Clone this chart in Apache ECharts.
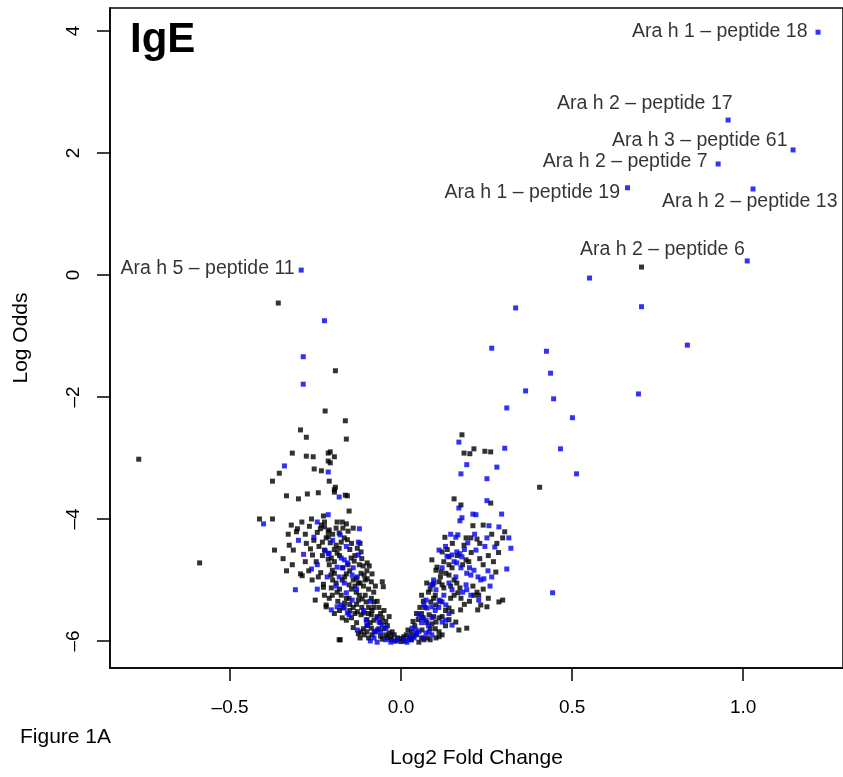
<!DOCTYPE html>
<html><head><meta charset="utf-8">
<script src="https://cdn.jsdelivr.net/npm/echarts@6/dist/echarts.min.js"></script>
<style>html,body{margin:0;padding:0;background:#fff}#c{width:843px;height:777px}</style>
</head><body><div id="c"></div>
<script>
// Labelled peptides (Log2 fold change, log odds)
const labelNames = ['Ara h 1 – peptide 18','Ara h 2 – peptide 17','Ara h 3 – peptide 61','Ara h 2 – peptide 7','Ara h 1 – peptide 19','Ara h 2 – peptide 13','Ara h 2 – peptide 6','Ara h 5 – peptide 11'];
const labelX = [1.219, 0.956, 1.146, 0.927, 0.662, 1.029, 1.012, -0.292];
const labelY = [3.98, 2.54, 2.05, 1.82, 1.43, 1.41, 0.23, 0.08];
// label placement (pixels), kept separate from data
const labelOffsets = [[-8,-1],[7,-16],[-3,-9],[-8,-2],[-5,5],[87,13],[0,-11],[-4,-1]];

const blackPoints = [
[-0.767,-3.02],[-0.589,-4.72],[-0.359,-0.46],[-0.192,-1.57],
[-0.222,-2.23],[-0.163,-2.39],[-0.294,-2.54],[-0.277,-2.66],[-0.160,-2.69],
[-0.318,-2.92],[-0.277,-2.97],[-0.257,-2.98],[-0.213,-2.92],[-0.207,-2.90],[-0.195,-2.98],[-0.213,-3.05],[-0.207,-3.08],
[-0.356,-3.25],[-0.254,-3.18],[-0.233,-3.21],[-0.376,-3.38],[-0.210,-3.38],[-0.192,-3.48],[-0.195,-3.52],[-0.195,-3.56],
[-0.335,-3.62],[-0.300,-3.67],[-0.274,-3.59],[-0.242,-3.57],[-0.163,-3.61],[-0.157,-3.62],
[-0.414,-4.00],[-0.376,-4.00],[-0.262,-4.00],[-0.227,-3.95],[-0.321,-4.10],[-0.303,-4.16],[-0.306,-4.21],[-0.233,-4.10],[-0.236,-4.16],[-0.224,-4.13],[-0.213,-4.21],[-0.213,-4.29],
[-0.370,-4.51],[-0.327,-4.43],[-0.315,-4.51],[-0.277,-4.40],[-0.265,-4.49],[-0.259,-4.59],[-0.213,-4.66],
[-0.318,-4.75],[-0.280,-4.70],[-0.248,-4.70],[-0.294,-4.90],[-0.289,-4.93],[-0.242,-4.95],[-0.227,-5.07],[-0.227,-5.12],[-0.224,-5.25],[-0.251,-5.33],[-0.219,-5.44],[-0.181,-5.98],
[-0.152,-3.87],[-0.224,-4.05],[-0.210,-4.18],[-0.219,-4.31],[-0.207,-4.39],[-0.187,-4.05],[-0.172,-4.05],[-0.160,-4.08],[-0.190,-4.15],[-0.181,-4.23],[-0.166,-4.31],[-0.157,-4.34],[-0.128,-4.48],[-0.117,-4.54],[-0.224,-4.51],[-0.204,-4.64],[-0.190,-4.43],[-0.181,-4.48],[-0.187,-4.56],[-0.195,-4.70],
[-0.146,-4.64],[-0.137,-4.69],[-0.122,-4.75],[-0.111,-4.77],[-0.099,-4.72],[-0.093,-4.77],[-0.201,-4.84],[-0.195,-4.89],[-0.172,-5.00],[-0.152,-5.08],[-0.131,-4.97],[-0.117,-4.89],[-0.108,-4.92],[-0.099,-4.98],[-0.087,-5.03],[-0.055,-5.03],[-0.052,-5.11],[-0.204,-5.13],[-0.201,-5.25],[-0.187,-5.20],[-0.152,-5.30],[-0.131,-5.20],[-0.122,-5.25],[-0.114,-5.31],[-0.102,-5.36],[-0.087,-5.30],[-0.079,-5.36],[-0.219,-5.41],[-0.172,-5.62],[-0.160,-5.66],[-0.128,-5.52],[-0.117,-5.57],[-0.108,-5.54],[-0.087,-5.57],[-0.079,-5.66],[-0.117,-5.85],[-0.099,-5.74],[-0.087,-5.79],[-0.178,-5.98],[-0.108,-5.90],[-0.041,-5.95],[-0.029,-5.98],[-0.015,-6.00],[0.000,-6.01],[0.012,-6.00],[-0.035,-5.87],[-0.026,-5.85],
[-0.140,-5.00],[-0.125,-5.05],[-0.110,-5.10],[-0.095,-5.15],[-0.080,-5.20],[-0.065,-5.45],[-0.070,-5.60],[-0.060,-5.70],[-0.050,-5.80],[-0.045,-5.90],[-0.095,-5.45],[-0.085,-5.50],[-0.130,-5.40],[-0.140,-5.45],[-0.150,-5.50],[-0.100,-5.65],[-0.090,-5.70],[-0.075,-5.85],[-0.060,-5.92],[-0.150,-4.85],[-0.160,-4.90],[-0.170,-4.80],[-0.180,-4.60],[-0.145,-4.40],[-0.135,-4.60],[-0.120,-4.40],[-0.155,-4.20],[-0.140,-4.15],[-0.200,-5.00],[-0.185,-5.35],[-0.170,-5.45],[-0.160,-5.30],[-0.110,-5.80],[-0.130,-5.70],[-0.120,-5.95],
[-0.290,-4.05],[-0.280,-4.25],[-0.268,-4.12],[-0.255,-4.35],[-0.245,-4.22],[-0.240,-4.45],[-0.230,-4.38],[-0.200,-4.25],[-0.195,-4.50],[-0.175,-4.38],[-0.170,-4.15],[-0.150,-4.50],[-0.330,-4.25],[-0.345,-4.65],[-0.335,-4.85],
[-0.270,-4.85],[-0.260,-5.00],[-0.235,-4.88],[-0.230,-4.60],[-0.210,-4.75],[-0.205,-4.92],[-0.190,-5.05],[-0.180,-5.15],[-0.165,-4.95],[-0.155,-4.75],[-0.145,-5.15],[-0.135,-5.10],[-0.120,-5.05],[-0.115,-4.65],[-0.105,-5.00],[-0.100,-4.85],[-0.085,-4.90],[-0.075,-5.10],
[-0.210,-5.30],[-0.195,-5.55],[-0.180,-5.50],[-0.175,-5.25],[-0.165,-5.38],[-0.150,-5.40],[-0.145,-5.62],[-0.135,-5.55],[-0.125,-5.33],[-0.115,-5.45],[-0.105,-5.25],[-0.095,-5.55],[-0.080,-5.45],[-0.070,-5.35],[-0.060,-5.55],[-0.055,-5.62],[-0.050,-5.50],[-0.045,-5.68],[-0.040,-5.75],[-0.035,-5.60],
[-0.140,-5.78],[-0.125,-5.88],[-0.100,-5.85],[-0.095,-5.95],[-0.085,-5.90],[-0.065,-5.80],[-0.055,-5.97],[-0.030,-5.93],[-0.020,-5.90],[-0.010,-5.95],[0.000,-5.96],[0.008,-5.93],
[0.703,0.13],[0.405,-3.48],[0.178,-2.62],[0.213,-2.85],[0.184,-2.92],[0.201,-2.93],[0.245,-2.89],[0.262,-2.90],[0.155,-3.67],[0.262,-3.74],[0.175,-3.77],[0.210,-4.11],[0.128,-4.30],[0.190,-4.31],[0.204,-4.31],[0.303,-4.21],[0.297,-4.31],[0.184,-4.43],[0.222,-4.33],[0.120,-4.54],[0.140,-4.62],[0.190,-4.67],[0.198,-4.70],[0.090,-4.67],[0.105,-4.79],[0.102,-4.84],[0.117,-4.87],[0.140,-4.75],[0.149,-4.80],[0.131,-4.89],[0.140,-4.92],[0.111,-5.03],[0.120,-5.08],[0.125,-5.13],[0.163,-5.05],[0.172,-5.13],[0.213,-5.25],[0.222,-5.20],[0.227,-5.25],[0.087,-5.36],[0.102,-5.41],[0.140,-5.46],[0.149,-5.52],[0.160,-5.69],[0.169,-5.82],[0.192,-5.79],[0.082,-5.57],[0.102,-5.69],[0.111,-5.62],[0.061,-5.82],[0.111,-5.85],[0.120,-5.90],[0.052,-6.02],[0.067,-5.98],[0.076,-5.95],[0.102,-5.95],[0.111,-5.93],[0.286,-5.36],[0.251,-5.44],[0.224,-5.49],[0.277,-4.87],[0.297,-5.33],
[0.030,-5.85],[0.040,-5.75],[0.050,-5.65],[0.060,-5.55],[0.070,-5.45],[0.045,-5.90],[0.025,-5.95],[0.075,-5.70],[0.085,-5.80],[0.095,-5.60],[0.080,-5.20],[0.100,-5.25],[0.115,-5.35],[0.130,-5.50],[0.145,-5.30],[0.155,-5.00],[0.065,-5.35],[0.035,-5.92],[0.233,-5.41],[0.174,-5.49],[0.166,-5.21],[0.093,-5.08],
[0.150,-4.40],[0.165,-4.60],[0.180,-4.75],[0.205,-4.55],[0.230,-4.65],[0.240,-4.75],[0.255,-4.60],[0.270,-4.70],[0.285,-4.55],[0.135,-4.50],[0.125,-4.70],[0.115,-4.95],[0.145,-5.10],[0.155,-5.25],[0.175,-5.30],[0.185,-5.40],[0.200,-5.35],[0.210,-5.10],[0.240,-5.15],[0.255,-5.30],[0.095,-5.30],[0.085,-5.15],[0.075,-5.05],[0.060,-5.25],[0.055,-5.45],[0.045,-5.55],[0.035,-5.68],[0.065,-5.62],[0.090,-5.72],[0.100,-5.80],[0.130,-5.75],[0.140,-5.65],[0.120,-5.60],[0.020,-5.82],[0.030,-5.98],[0.060,-5.95],[0.085,-5.98],[0.015,-5.90],[0.230,-4.40],[0.265,-4.25],[0.240,-4.10],[0.280,-4.40]
];

const bluePoints = [
[-0.224,-0.75],[-0.286,-1.34],[-0.286,-1.79],[-0.341,-3.13],[-0.213,-3.23],[-0.181,-3.64],[-0.402,-4.08],[-0.309,-5.16],[-0.213,-3.93],[-0.178,-4.26],[-0.122,-4.16],[-0.125,-4.38],[-0.125,-4.59],[-0.210,-4.56],[-0.175,-4.64],[-0.166,-4.67],[-0.157,-4.72],[-0.187,-4.79],[-0.172,-4.80],[-0.216,-4.95],[-0.181,-4.95],[-0.166,-5.05],[-0.143,-4.92],[-0.128,-4.95],[-0.160,-5.21],[-0.143,-5.33],[-0.204,-5.49],[-0.187,-5.44],[-0.175,-5.41],[-0.166,-5.46],[-0.157,-5.54],[-0.152,-5.57],[-0.102,-5.66],[-0.070,-5.62],[-0.128,-5.82],[-0.079,-5.85],[-0.070,-5.82],[-0.064,-5.69],[-0.055,-5.74],[-0.044,-5.79],[-0.079,-5.95],[-0.070,-6.02],[-0.020,-6.00],[-0.010,-5.98],[-0.262,-4.82],[-0.245,-4.75],[-0.245,-5.15],[-0.222,-4.52],[-0.213,-4.57],
[-0.255,-4.30],[-0.245,-4.05],[-0.200,-4.35],[-0.190,-5.10],[-0.160,-4.45],[-0.140,-4.80],[-0.130,-5.15],[-0.110,-5.50],[-0.090,-5.35],[-0.100,-5.75],[-0.060,-5.85],[-0.090,-6.00],[-0.045,-5.98],[-0.030,-6.02],[-0.285,-4.58],[-0.300,-4.35],
[0.551,-0.05],[0.335,-0.54],[0.703,-0.52],[0.265,-1.20],[0.425,-1.25],[0.837,-1.15],[0.437,-1.61],[0.364,-1.90],[0.446,-2.03],[0.694,-1.95],[0.309,-2.18],[0.501,-2.34],[0.169,-2.74],[0.303,-2.84],[0.466,-2.85],[0.192,-3.11],[0.280,-3.15],[0.175,-3.26],[0.251,-3.34],[0.513,-3.26],[0.251,-3.70],[0.169,-3.82],[0.178,-3.98],[0.172,-4.03],[0.210,-3.92],[0.219,-3.93],[0.294,-3.92],[0.257,-4.11],[0.286,-4.13],[0.160,-4.30],[0.166,-4.26],[0.251,-4.31],[0.315,-4.31],[0.195,-4.39],[0.274,-4.46],[0.321,-4.48],[0.111,-4.51],[0.134,-4.61],[0.149,-4.59],[0.163,-4.54],[0.172,-4.57],[0.178,-4.62],[0.219,-4.51],[0.163,-4.72],[0.175,-4.80],[0.192,-4.89],[0.204,-4.92],[0.213,-4.84],[0.233,-5.00],[0.242,-4.98],[0.254,-4.85],[0.265,-4.95],[0.309,-4.82],[0.087,-5.08],[0.096,-5.05],[0.102,-5.16],[0.140,-5.05],[0.149,-5.16],[0.190,-5.08],[0.192,-5.16],[0.204,-5.25],[0.443,-5.21],[0.073,-5.33],[0.067,-5.41],[0.076,-5.46],[0.090,-5.44],[0.111,-5.33],[0.120,-5.36],[0.131,-5.41],[0.052,-5.57],[0.061,-5.62],[0.073,-5.66],[0.090,-5.62],[0.120,-5.69],[0.131,-5.66],[0.149,-5.74],[0.032,-5.79],[0.044,-5.82],[0.052,-5.85],[0.073,-5.87],[0.082,-5.85],[0.090,-5.90],[0.009,-5.98],[0.017,-6.02],[0.029,-5.98],[0.038,-5.95],[0.227,-5.33],
[0.130,-4.45],[0.155,-4.70],[0.185,-4.50],[0.200,-4.80],[0.225,-4.95],[0.160,-4.95],[0.180,-5.20],[0.125,-5.25],[0.100,-5.50],[0.080,-5.75],[0.060,-5.70],[0.110,-5.45],[0.140,-5.55],[0.045,-5.88],[0.025,-5.92],[0.065,-5.95],[0.095,-5.00],[0.120,-4.80],[0.245,-4.45],[0.260,-5.10],[0.215,-4.25],[0.145,-4.25]
];

const xTicks = [-0.5, 0.0, 0.5, 1.0];
const yTicks = [-6, -4, -2, 0, 2, 4];
const xRange = [-0.851, 1.292];
const yRange = [-6.443, 4.377];

const FONT = 'Liberation Sans, Arial, Helvetica, sans-serif';
const BLUE = '#0000ee';
const fmt = (v, d) => (d ? Number(v).toFixed(d) : String(v)).replace('-', '\u2013');

const labeled = labelNames.map((n, i) => ({ name: n, value: [labelX[i], labelY[i]] }));

const chart = echarts.init(document.getElementById('c'), null, { renderer: 'canvas' });
chart.setOption({
  animation: false,
  backgroundColor: '#fff',
  grid: { left: 110, top: 8, right: -2, bottom: 109, show: true, borderColor: '#000', borderWidth: 1.5, containLabel: false },
  graphic: [
    { type: 'text', left: 130, top: 19, style: { text: 'IgE', font: 'bold 42px ' + FONT, fill: '#000' } },
    { type: 'text', left: 20, top: 727, style: { text: 'Figure 1A', font: '21px ' + FONT, fill: '#000' } }
  ],
  xAxis: {
    type: 'value', min: xRange[0], max: xRange[1],
    name: 'Log2 Fold Change', nameLocation: 'middle', nameGap: 80,
    nameTextStyle: { fontSize: 21, fontFamily: FONT, color: '#000' },
    splitLine: { show: false },
    axisLine: { show: true, onZero: false, lineStyle: { color: '#000', width: 1.5 } },
    axisTick: { show: true, length: 13, lineStyle: { color: '#000', width: 1.5 }, customValues: xTicks },
    axisLabel: { customValues: xTicks, margin: 30, fontSize: 19, fontFamily: FONT, color: '#000', formatter: v => fmt(v, 1) }
  },
  yAxis: {
    type: 'value', min: yRange[0], max: yRange[1],
    name: 'Log Odds', nameLocation: 'middle', nameGap: 78, nameRotate: 90,
    nameTextStyle: { fontSize: 21, fontFamily: FONT, color: '#000' },
    splitLine: { show: false },
    axisLine: { show: true, onZero: false, lineStyle: { color: '#000', width: 1.5 } },
    axisTick: { show: true, length: 13, lineStyle: { color: '#000', width: 1.5 }, customValues: yTicks },
    axisLabel: { customValues: yTicks, margin: 27, rotate: 90, fontSize: 19, fontFamily: FONT, color: '#000', formatter: v => fmt(v, 0) }
  },
  series: [
    { type: 'scatter', data: blackPoints, symbol: 'rect', symbolSize: 5, itemStyle: { color: '#000' }, silent: true },
    { type: 'scatter', data: bluePoints, symbol: 'rect', symbolSize: 5, itemStyle: { color: BLUE }, silent: true },
    { type: 'scatter', data: labeled, symbol: 'rect', symbolSize: 5, itemStyle: { color: BLUE }, silent: true,
      label: { show: true, position: 'left', distance: 0, formatter: p => p.name, color: '#000', fontSize: 19.5, fontFamily: FONT },
      labelLayout: p => ({ dx: labelOffsets[p.dataIndex][0], dy: labelOffsets[p.dataIndex][1], hideOverlap: false }) }
  ]
});
</script>
</body></html>
